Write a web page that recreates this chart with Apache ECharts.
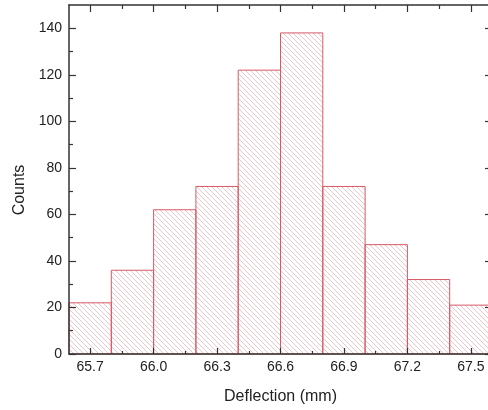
<!DOCTYPE html>
<html>
<head>
<meta charset="utf-8">
<script src="https://cdn.jsdelivr.net/npm/echarts@6/dist/echarts.min.js"></script>
<style>
html,body{margin:0;padding:0;background:#fff;overflow:hidden;}
#c{width:500px;height:410px;}
</style>
</head>
<body>
<div id="c"></div>
<script>
// ---- data ----
const binEdges = [65.6, 65.8, 66.0, 66.2, 66.4, 66.6, 66.8, 67.0, 67.2, 67.4, 67.6];
const counts = [22, 36, 62, 72, 122, 138, 72, 47, 32, 21];
const xMajorTicks = [65.7, 66.0, 66.3, 66.6, 66.9, 67.2, 67.5];
const xMinorTicks = [65.85, 66.15, 66.45, 66.75, 67.05, 67.35];
const yMajorTicks = [0, 20, 40, 60, 80, 100, 120, 140];
const yMinorTicks = [10, 30, 50, 70, 90, 110, 130];
const xName = 'Deflection (mm)';
const yName = 'Counts';

// hatch pattern
const tile = 5;
const pc = document.createElement('canvas');
pc.width = tile; pc.height = tile;
const g = pc.getContext('2d');
g.strokeStyle = 'rgba(220,110,120,0.45)';
g.lineWidth = 0.9;
g.beginPath();
g.moveTo(-1, -1); g.lineTo(tile + 1, tile + 1);
g.moveTo(-1, tile - 1); g.lineTo(1, tile + 1);
g.moveTo(tile - 1, -1); g.lineTo(tile + 1, 1);
g.stroke();

const hist = counts.map((c, i) => [binEdges[i], binEdges[i + 1], c]);

const axisColor = '#333';
const font = '"Liberation Sans", Arial, sans-serif';

function xAx(pos, values, len, showLine, showLabel, extra) {
  return Object.assign({
    type: 'value', position: pos, min: 65.6, max: 67.6, z: 5,
    axisLine: {show: showLine, onZero: false, lineStyle: {color: axisColor, width: 1.5}},
    axisTick: {show: true, inside: true, length: len, customValues: values, lineStyle: {color: axisColor, width: 1.2}},
    axisLabel: {show: showLabel, customValues: values, formatter: v => v.toFixed(1),
      color: '#222', fontSize: 14, fontFamily: font, margin: 6},
    splitLine: {show: false}
  }, extra || {});
}
function yAx(pos, values, len, showLine, showLabel, extra) {
  return Object.assign({
    type: 'value', position: pos, min: 0, max: 150, z: 5,
    axisLine: {show: showLine, onZero: false, lineStyle: {color: axisColor, width: 1.5}},
    axisTick: {show: true, inside: true, length: len, customValues: values, lineStyle: {color: axisColor, width: 1.2}},
    axisLabel: {show: showLabel, customValues: values, color: '#222', fontSize: 14, fontFamily: font, margin: 7},
    splitLine: {show: false}
  }, extra || {});
}

const chart = echarts.init(document.getElementById('c'), null, {renderer: 'canvas'});
chart.setOption({
  animation: false,
  backgroundColor: '#fff',
  grid: {left: 69, top: 5, right: 8, bottom: 56, containLabel: false},
  xAxis: [
    xAx('bottom', xMajorTicks, 6, true, true, {
      name: xName, nameLocation: 'middle', nameGap: 35,
      nameTextStyle: {color: '#222', fontSize: 16, fontFamily: font}
    }),
    xAx('bottom', xMinorTicks, 3, false, false),
    xAx('top', xMajorTicks, 7, true, false),
    xAx('top', xMinorTicks, 4, false, false)
  ],
  yAxis: [
    yAx('left', yMajorTicks, 7, true, true, {
      name: yName, nameLocation: 'middle', nameGap: 40,
      nameTextStyle: {color: '#222', fontSize: 16, fontFamily: font, padding: [0, 21, 0, 0]}
    }),
    yAx('left', yMinorTicks, 4, false, false),
    yAx('right', yMajorTicks, 7, true, false),
    yAx('right', yMinorTicks, 4, false, false)
  ],
  series: [{
    type: 'custom',
    z: 1,
    xAxisIndex: 0, yAxisIndex: 0,
    data: hist,
    encode: {x: [0, 1], y: 2},
    renderItem: function (params, api) {
      const p0 = api.coord([api.value(0), api.value(2)]);
      const p1 = api.coord([api.value(1), 0]);
      return {
        type: 'rect',
        shape: {x: p0[0], y: p0[1], width: p1[0] - p0[0], height: p1[1] - p0[1]},
        style: {fill: {image: pc, repeat: 'repeat'}, stroke: '#d65a66', lineWidth: 1}
      };
    }
  }]
});
</script>
</body>
</html>
